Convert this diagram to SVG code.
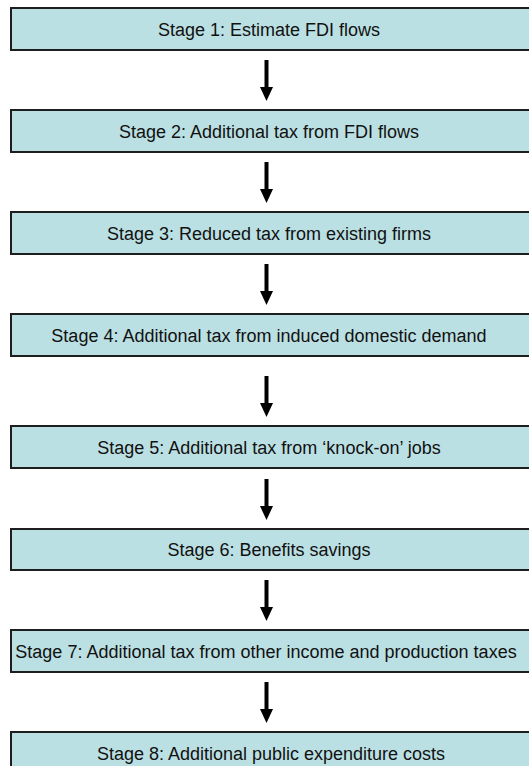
<svg xmlns="http://www.w3.org/2000/svg" width="529" height="766" viewBox="0 0 529 766">
<style>
.box{fill:#BBE0E3;stroke:#1e1e1e;stroke-width:2}
.lbl{font-family:"Liberation Sans",Arial,sans-serif;font-size:18px;fill:#111;text-anchor:middle}
.arr{stroke:#000;stroke-width:4;fill:none;marker-end:url(#ah)}
</style>
<defs>
<marker id="ah" viewBox="0 0 14 13" refX="0" refY="6.5" markerWidth="14" markerHeight="13" markerUnits="userSpaceOnUse" orient="auto">
<path d="M0,0 L14,6.5 L0,13 Z" fill="#000"/>
</marker>
</defs>
<rect width="529" height="766" fill="#fff"/>
<g id="connectors">
<line class="arr" x1="266.5" y1="60" x2="266.5" y2="87"/>
<line class="arr" x1="266.5" y1="162" x2="266.5" y2="189"/>
<line class="arr" x1="266.5" y1="264" x2="266.5" y2="291"/>
<line class="arr" x1="266.5" y1="376" x2="266.5" y2="403"/>
<line class="arr" x1="266.5" y1="479" x2="266.5" y2="506"/>
<line class="arr" x1="266.5" y1="580" x2="266.5" y2="607"/>
<line class="arr" x1="266.5" y1="682" x2="266.5" y2="709"/>
</g>
<g id="stage1"><rect class="box" x="11" y="8" width="530" height="42"/><text class="lbl" x="269" y="36">Stage 1: Estimate FDI flows</text></g>
<g id="stage2"><rect class="box" x="11" y="110" width="530" height="42"/><text class="lbl" x="269" y="138">Stage 2: Additional tax from FDI flows</text></g>
<g id="stage3"><rect class="box" x="11" y="212" width="530" height="42"/><text class="lbl" x="269" y="240">Stage 3: Reduced tax from existing firms</text></g>
<g id="stage4"><rect class="box" x="11" y="314" width="530" height="42"/><text class="lbl" x="269" y="342">Stage 4: Additional tax from induced domestic demand</text></g>
<g id="stage5"><rect class="box" x="11" y="426" width="530" height="42"/><text class="lbl" x="269" y="454">Stage 5: Additional tax from ‘knock-on’ jobs</text></g>
<g id="stage6"><rect class="box" x="11" y="529" width="530" height="41"/><text class="lbl" x="269" y="556">Stage 6: Benefits savings</text></g>
<g id="stage7"><rect class="box" x="11" y="630" width="530" height="42"/><text class="lbl" x="266" y="658">Stage 7: Additional tax from other income and production taxes</text></g>
<g id="stage8"><rect class="box" x="11" y="732" width="530" height="42"/><text class="lbl" x="271" y="760">Stage 8: Additional public expenditure costs</text></g>
</svg>
